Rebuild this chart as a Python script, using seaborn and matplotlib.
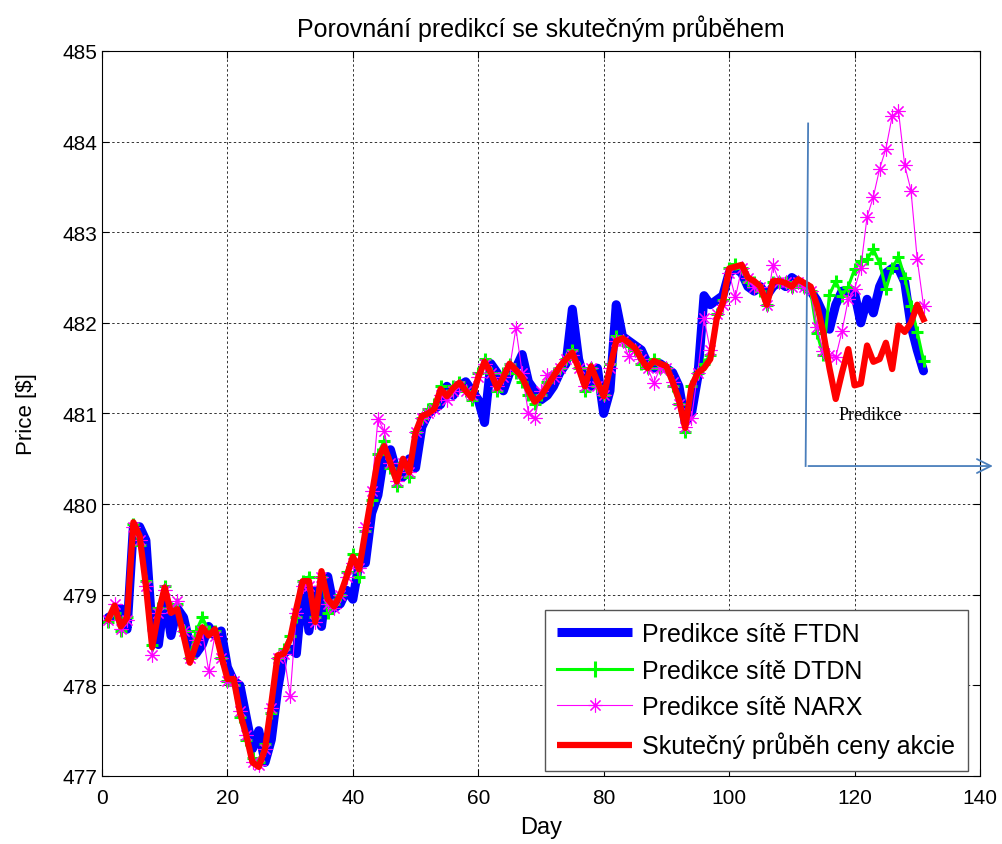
import numpy as np
import pandas as pd
import seaborn as sns
import matplotlib
matplotlib.use("Agg")
import matplotlib.pyplot as plt

days = list(range(1, 132))

actual = [
    478.73, 478.88, 478.65, 478.75, 479.80, 479.65, 479.10, 478.42, 478.80, 479.08,
    478.80, 478.84, 478.55, 478.25, 478.45, 478.64, 478.55, 478.62, 478.33, 478.07,
    478.07, 477.70, 477.45, 477.15, 477.10, 477.30, 477.80, 478.33, 478.35, 478.51,
    478.85, 479.15, 479.15, 478.70, 479.26, 478.95, 478.87, 479.00, 479.20, 479.42,
    479.28, 479.70, 480.10, 480.50, 480.64, 480.45, 480.25, 480.50, 480.35, 480.79,
    480.97, 481.00, 481.05, 481.27, 481.19, 481.28, 481.34, 481.25, 481.17, 481.40,
    481.57, 481.45, 481.28, 481.40, 481.55, 481.48, 481.40, 481.25, 481.13, 481.19,
    481.30, 481.41, 481.52, 481.60, 481.67, 481.50, 481.30, 481.52, 481.35, 481.19,
    481.50, 481.80, 481.83, 481.78, 481.72, 481.60, 481.50, 481.58, 481.55, 481.52,
    481.35, 481.15, 480.84, 481.30, 481.45, 481.50, 481.60, 482.04, 482.22, 482.60,
    482.62, 482.64, 482.50, 482.46, 482.40, 482.20, 482.46, 482.46, 482.44, 482.40,
    482.48, 482.44, 482.40, 482.20, 481.90, 481.50, 481.16, 481.45, 481.71, 481.31,
    481.33, 481.75, 481.57, 481.60, 481.78, 481.49, 481.97, 481.90, 482.00, 482.20,
    482.04,
]

ftdn = [
    478.75, 478.78, 478.85, 478.62, 479.75, 479.75, 479.60, 478.60, 478.45, 479.00,
    478.55, 478.85, 478.75, 478.45, 478.35, 478.45, 478.65, 478.55, 478.60, 478.20,
    478.05, 478.00, 477.65, 477.30, 477.50, 477.15, 477.40, 477.95, 478.35, 478.40,
    478.35, 479.10, 478.60, 479.05, 478.65, 479.20, 478.85, 478.90, 479.05, 478.95,
    479.35, 479.35, 479.90, 480.10, 480.55, 480.60, 480.35, 480.30, 480.50, 480.40,
    480.85, 481.00, 481.05, 481.10, 481.30, 481.20, 481.30, 481.35, 481.25, 481.15,
    480.90, 481.55, 481.45, 481.25, 481.45, 481.50, 481.65, 481.35, 481.25, 481.15,
    481.20, 481.30, 481.45, 481.55, 482.15, 481.60, 481.35, 481.30, 481.50, 481.00,
    481.25, 482.20, 481.85, 481.80, 481.75, 481.70, 481.55, 481.50, 481.55, 481.50,
    481.45, 481.30, 480.90, 481.00, 481.40, 482.30, 482.20, 482.25, 482.30, 482.55,
    482.60, 482.55, 482.40, 482.35, 482.40, 482.30, 482.40, 482.45, 482.40, 482.50,
    482.45, 482.40, 482.35, 482.25, 482.10, 481.93, 482.20, 482.35, 482.35, 482.33,
    482.00, 482.26, 482.11, 482.40, 482.55, 482.60, 482.60, 482.45, 481.97, 481.70,
    481.47,
]

dtdn = [
    478.70, 478.80, 478.60, 478.75, 479.78, 479.55, 479.15, 478.45, 478.85, 479.10,
    478.85, 478.90, 478.60, 478.30, 478.60, 478.75, 478.60, 478.60, 478.30, 478.05,
    478.00, 477.65, 477.40, 477.20, 477.15, 477.35, 477.70, 478.30, 478.40, 478.55,
    478.75, 479.15, 479.20, 478.75, 479.20, 478.80, 478.90, 479.00, 479.25, 479.45,
    479.20, 479.70, 480.05, 480.55, 480.70, 480.40, 480.20, 480.45, 480.30, 480.80,
    480.95, 481.05, 481.10, 481.30, 481.20, 481.30, 481.35, 481.25, 481.15, 481.45,
    481.60, 481.45, 481.25, 481.45, 481.55, 481.45, 481.35, 481.20, 481.10, 481.20,
    481.35, 481.45, 481.50, 481.60, 481.70, 481.50, 481.25, 481.50, 481.30, 481.20,
    481.55, 481.85, 481.80, 481.75, 481.70, 481.55, 481.50, 481.60, 481.50, 481.50,
    481.30, 481.10, 480.80, 481.30, 481.45, 481.55, 481.65, 482.10, 482.25, 482.60,
    482.65, 482.60, 482.45, 482.45, 482.35, 482.20, 482.45, 482.45, 482.45, 482.40,
    482.45, 482.40, 482.35, 481.89, 481.64, 482.31, 482.46, 482.30, 482.40, 482.59,
    482.68, 482.70, 482.81, 482.66, 482.37, 482.60, 482.73, 482.50, 482.19, 481.90,
    481.58,
]

narx = [
    478.72, 478.90, 478.62, 478.72, 479.75, 479.60, 479.10, 478.33, 478.80, 479.05,
    478.85, 478.93, 478.60, 478.30, 478.50, 478.60, 478.16, 478.55, 478.30, 478.05,
    478.05, 477.72, 477.45, 477.15, 477.12, 477.30, 477.75, 478.30, 478.35, 477.88,
    478.80, 479.10, 479.10, 478.70, 479.20, 478.90, 478.85, 479.00, 479.20, 479.35,
    479.30, 479.75, 480.15, 480.94, 480.81, 480.45, 480.25, 480.45, 480.35, 480.80,
    480.95, 481.00, 481.05, 481.20, 481.15, 481.25, 481.30, 481.25, 481.20, 481.40,
    481.55, 481.45, 481.30, 481.40, 481.50, 481.94, 481.45, 481.00, 480.95, 481.25,
    481.43, 481.40, 481.50, 481.60, 481.65, 481.50, 481.30, 481.50, 481.30, 481.20,
    481.50, 481.80, 481.80, 481.63, 481.70, 481.60, 481.50, 481.34, 481.50, 481.50,
    481.35, 481.10, 480.85, 480.95, 481.45, 482.05, 481.70, 482.10, 482.20, 482.55,
    482.28, 482.60, 482.50, 482.40, 482.40, 482.20, 482.64, 482.45, 482.45, 482.40,
    482.45, 482.40, 482.35, 481.95, 481.69, 481.65, 481.62, 481.91, 482.26, 482.37,
    482.61, 483.17, 483.39, 483.70, 483.92, 484.28, 484.34, 483.74, 483.46, 482.70,
    482.19,
]

labels = ["Predikce sítě FTDN", "Predikce sítě DTDN", "Predikce sítě NARX",
          "Skutečný průběh ceny akcie"]

plt.rcParams['font.family'] = ['Liberation Sans', 'DejaVu Sans']

fig = plt.figure(figsize=(10.02, 8.45), dpi=100)
ax = fig.add_axes([0.1018, 0.0805, 0.8762, 0.858])

sns.lineplot(x=days, y=ftdn, ax=ax, color=(0, 0, 1), linewidth=6.5,
             solid_joinstyle='round', solid_capstyle='round', label=labels[0])
sns.lineplot(x=days, y=dtdn, ax=ax, color=(0, 1, 0), linewidth=2.2,
             marker='+', markersize=8, markeredgewidth=2.2,
             markeredgecolor=(0, 1, 0), label=labels[1])
sns.lineplot(x=days, y=narx, ax=ax, color=(1, 0, 1), linewidth=0.8,
             marker='*', markersize=10, markeredgewidth=0.8,
             markerfacecolor='none', markeredgecolor=(1, 0, 1),
             label=labels[2])
sns.lineplot(x=days, y=actual, ax=ax, color=(1, 0, 0), linewidth=4.5,
             solid_joinstyle='round', label=labels[3])

# thin asterisk for NARX instead of the filled star
ax.lines[2].set_marker((8, 2, 0))

ax.set_xlim(0, 140)
ax.set_ylim(477, 485)
ax.set_xticks(range(0, 141, 20))
ax.set_yticks(range(477, 486))
ax.tick_params(direction='in', top=True, right=True, labelsize=15, length=5)
ax.tick_params(axis='x', pad=9)
ax.grid(True, color='#333333', linestyle=(0, (2.5, 2.5)), linewidth=0.7)
for s in ax.spines.values():
    s.set_color('black')
    s.set_linewidth(0.8)

ax.set_title("Porovnání predikcí se skutečným průběhem", fontsize=18, pad=11)
ax.set_xlabel("Day", fontsize=17, labelpad=6)
ax.set_ylabel("Price [$]", fontsize=16, labelpad=18)

leg = ax.legend(loc='lower right', fontsize=18, frameon=True, fancybox=False,
                edgecolor='#555555', framealpha=1, borderpad=0.5,
                handlelength=3.0, handletextpad=0.4, labelspacing=0.5,
                borderaxespad=0, bbox_to_anchor=(0.986, 0.007))
leg.get_frame().set_linewidth(1.0)
leg.legend_handles[0].set_solid_capstyle('butt')
leg.legend_handles[3].set_solid_capstyle('butt')
leg.legend_handles[1].set_markersize(11)
leg.legend_handles[2].set_marker((8, 2, 0))

# prediction annotation
arrow_col = '#4a7ebb'
ax.plot([112.6, 112.2], [484.2, 480.42], color=arrow_col, linewidth=1.3,
        clip_on=False)
ax.annotate("", xy=(142.5, 480.42), xytext=(112.2, 480.42),
            arrowprops=dict(arrowstyle='->', color=arrow_col, lw=1.3,
                            mutation_scale=25),
            annotation_clip=False)
ax.text(117.5, 480.94, "Predikce", family='Liberation Serif', fontsize=13)

fig.savefig("out.png", dpi=100)
